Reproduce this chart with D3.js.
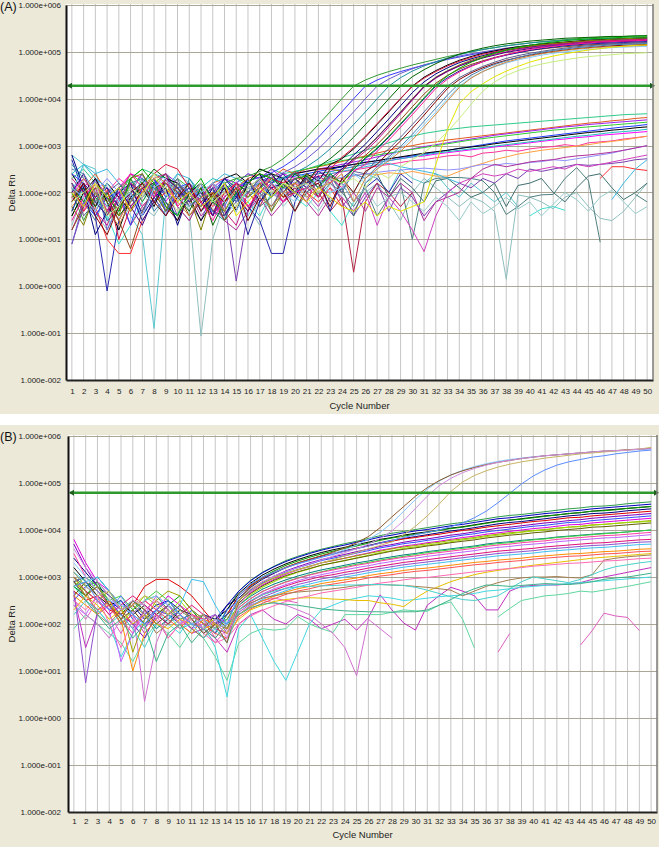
<!DOCTYPE html>
<html><head><meta charset="utf-8">
<script src="https://cdn.jsdelivr.net/npm/d3@7"></script>
<style>
html,body{margin:0;padding:0;background:#fff;}
svg{display:block;}
text{font-family:"Liberation Sans",Arial,sans-serif;}
</style></head><body>
<svg id="chart" width="659" height="847"></svg>
<script>
// ---------- categories / ticks ----------
const cycles = [1,2,3,4,5,6,7,8,9,10,11,12,13,14,15,16,17,18,19,20,21,22,23,24,25,26,27,28,29,30,31,32,33,34,35,36,37,38,39,40,41,42,43,44,45,46,47,48,49,50];
const yTickValues = [0.01,0.1,1,10,100,1000,10000,100000,1000000];
const yTickLabels = ["1.000e-002","1.000e-001","1.000e+000","1.000e+001","1.000e+002","1.000e+003","1.000e+004","1.000e+005","1.000e+006"];
const thresholdA = 19000;
const thresholdB = 62000;

// ---------- Panel A series (values are log10 of Delta Rn, one per cycle) ----------
const A_amplified_log10 = [
[2.0,1.4,1.9,1.6,2.1,2.3,1.8,2.2,2.4,2.1,1.7,2.0,1.8,2.2,2.3,2.35,2.45,2.55,2.72,2.93,3.18,3.45,3.72,4.0,4.27,4.4,4.5,4.58,4.65,4.72,4.78,4.84,4.9,4.95,5.0,5.05,5.09,5.13,5.16,5.19,5.22,5.24,5.26,5.28,5.3,5.31,5.32,5.33,5.34,5.35],
[2.4,2.2,1.5,1.9,2.0,1.3,2.1,2.3,1.6,2.0,1.9,2.2,1.5,1.9,2.1,2.25,2.32,2.42,2.55,2.72,2.93,3.18,3.45,3.72,4.0,4.27,4.4,4.5,4.58,4.65,4.72,4.78,4.84,4.89,4.94,4.98,5.02,5.06,5.09,5.12,5.15,5.18,5.2,5.22,5.24,5.25,5.27,5.28,5.29,5.3],
[0.9,1.8,2.3,1.2,1.7,2.0,2.4,1.9,1.5,2.2,1.8,1.4,2.0,1.7,2.2,2.0,2.25,2.32,2.42,2.55,2.72,2.93,3.18,3.45,3.72,4.0,4.27,4.42,4.54,4.64,4.72,4.79,4.85,4.91,4.96,5.0,5.04,5.08,5.11,5.14,5.16,5.18,5.2,5.22,5.23,5.24,5.25,5.26,5.27,5.28],
[2.6,2.3,2.0,1.4,1.6,2.2,2.3,2.1,1.8,1.5,2.3,1.9,1.6,1.4,2.0,1.9,2.1,2.25,2.32,2.42,2.55,2.72,2.93,3.18,3.45,3.72,4.0,4.27,4.45,4.59,4.7,4.79,4.87,4.94,5.0,5.05,5.09,5.13,5.16,5.19,5.21,5.23,5.25,5.26,5.27,5.28,5.29,5.29,5.3,5.3],
[1.9,2.1,1.7,2.0,1.5,1.8,2.2,2.5,2.3,1.9,1.6,2.1,1.3,1.8,2.2,2.0,2.3,2.4,2.1,2.4,2.2,2.55,2.72,2.93,3.18,3.45,3.72,4.0,4.27,4.47,4.62,4.75,4.86,4.95,5.02,5.08,5.13,5.17,5.2,5.23,5.25,5.27,5.29,5.3,5.31,5.32,5.33,5.33,5.34,5.34],
[1.5,2.0,2.3,1.8,1.2,1.9,2.1,1.7,2.3,2.2,1.9,1.4,1.8,2.1,1.6,2.2,2.4,1.9,2.3,2.0,2.4,2.25,2.6,2.72,2.93,3.18,3.45,3.72,4.0,4.27,4.46,4.6,4.72,4.82,4.9,4.97,5.02,5.07,5.11,5.14,5.17,5.19,5.21,5.23,5.25,5.26,5.27,5.28,5.29,5.3],
[2.2,1.6,1.9,2.1,1.0,1.7,2.0,2.4,2.6,2.5,2.1,1.8,1.5,2.0,2.2,1.7,2.0,2.3,2.2,2.45,2.2,2.5,2.5,2.75,2.96,3.2,3.47,3.74,4.01,4.26,4.44,4.58,4.7,4.8,4.88,4.95,5.0,5.05,5.09,5.12,5.15,5.17,5.19,5.21,5.22,5.23,5.24,5.25,5.26,5.27],
[2.8,2.1,1.1,1.6,2.0,2.2,1.5,1.9,2.1,1.3,2.0,1.7,2.1,1.5,1.9,2.3,1.8,2.1,2.2,1.9,2.35,2.1,2.5,2.55,2.8,3.03,3.3,3.57,3.85,4.13,4.36,4.53,4.66,4.77,4.85,4.92,4.98,5.03,5.07,5.1,5.13,5.15,5.17,5.19,5.2,5.21,5.22,5.23,5.24,5.25],
[1.7,1.3,2.0,1.8,1.5,2.3,2.4,2.0,1.6,2.2,1.9,1.2,2.0,1.8,2.1,1.9,2.2,1.6,2.0,2.2,2.4,2.1,2.5,2.45,2.72,2.93,3.18,3.45,3.72,4.0,4.27,4.46,4.6,4.72,4.82,4.9,4.97,5.03,5.08,5.12,5.15,5.18,5.2,5.22,5.24,5.25,5.27,5.28,5.29,5.3],
[2.3,2.0,1.6,1.3,1.9,2.2,2.0,2.3,2.4,1.7,1.4,1.9,2.2,1.6,1.3,2.0,2.3,2.1,1.8,2.1,1.8,2.35,2.2,2.5,2.68,2.88,3.12,3.4,3.68,3.97,4.25,4.44,4.58,4.7,4.8,4.88,4.95,5.0,5.05,5.09,5.12,5.15,5.17,5.19,5.21,5.22,5.23,5.24,5.25,5.26],
[1.2,1.7,2.1,1.9,1.4,0.8,1.6,2.1,2.2,2.0,1.5,1.8,2.0,1.4,1.7,2.1,1.9,2.2,1.9,2.0,2.3,1.9,2.35,2.2,2.55,2.79,3.02,3.28,3.55,3.83,4.1,4.33,4.5,4.63,4.73,4.81,4.88,4.94,4.99,5.03,5.06,5.09,5.11,5.13,5.15,5.16,5.17,5.18,5.19,5.2],
[2.0,2.4,1.8,1.5,2.1,1.7,1.3,1.9,2.3,2.1,1.8,2.0,1.5,2.2,1.9,1.6,2.1,2.4,2.0,2.3,2.1,2.45,2.3,2.5,2.72,2.93,3.17,3.44,3.71,3.99,4.26,4.45,4.59,4.7,4.79,4.87,4.93,4.99,5.03,5.07,5.1,5.13,5.15,5.17,5.19,5.2,5.21,5.22,5.23,5.24],
[1.6,2.2,1.9,2.1,1.7,2.0,1.4,1.8,2.2,1.9,2.1,1.6,1.9,2.3,2.0,1.1,1.8,2.2,2.4,2.1,2.2,2.35,1.6,2.3,2.5,2.72,2.93,3.18,3.45,3.72,4.0,4.27,4.45,4.59,4.7,4.79,4.87,4.93,4.98,5.03,5.07,5.1,5.13,5.15,5.17,5.18,5.19,5.2,5.21,5.22],
[2.1,1.8,2.2,1.9,1.6,2.3,2.5,2.2,1.7,1.5,2.0,2.3,1.8,1.6,2.0,2.2,2.4,2.3,2.1,2.3,2.35,2.1,2.4,2.2,2.5,2.74,2.95,3.2,3.47,3.74,4.02,4.29,4.49,4.65,4.78,4.88,4.97,5.04,5.1,5.14,5.18,5.21,5.24,5.26,5.28,5.29,5.3,5.31,5.32,5.32],
[1.4,1.9,2.2,1.6,2.0,2.4,2.1,1.9,2.3,1.7,2.0,1.8,1.4,1.9,2.2,1.7,2.0,2.2,1.8,2.0,2.1,1.9,2.35,2.1,2.45,2.6,2.88,3.12,3.39,3.66,3.94,4.22,4.42,4.57,4.69,4.79,4.87,4.94,5.0,5.05,5.09,5.12,5.15,5.17,5.19,5.21,5.22,5.23,5.24,5.25],
[2.2,1.5,1.8,2.0,2.2,1.9,1.6,2.1,2.0,2.3,1.7,1.9,2.1,1.5,1.8,2.2,2.0,1.7,2.1,2.3,2.0,2.2,2.35,2.0,2.45,2.4,2.72,2.93,3.18,3.45,3.72,4.0,4.27,4.45,4.58,4.69,4.78,4.86,4.92,4.97,5.01,5.05,5.08,5.11,5.13,5.15,5.17,5.18,5.19,5.2],
[1.8,2.2,1.5,1.1,1.7,2.0,2.2,1.8,1.5,1.9,2.2,1.6,2.0,1.8,2.1,1.4,1.9,2.2,2.0,1.6,2.1,2.2,1.7,2.3,2.0,2.45,2.6,2.86,3.1,3.37,3.65,3.94,4.22,4.41,4.55,4.66,4.75,4.82,4.88,4.93,4.97,5.01,5.04,5.07,5.09,5.11,5.13,5.14,5.15,5.16],
[2.5,2.4,2.0,1.7,2.1,1.8,2.3,1.6,1.9,2.2,2.0,1.7,1.9,2.2,1.8,2.0,2.3,1.9,2.2,2.0,2.3,2.1,2.35,2.05,2.4,2.3,2.55,2.76,2.98,3.24,3.52,3.8,4.08,4.33,4.5,4.63,4.73,4.81,4.88,4.94,4.99,5.03,5.06,5.09,5.11,5.13,5.15,5.16,5.17,5.18],
[2.1,1.9,1.6,2.2,1.8,2.0,1.5,2.1,2.3,1.9,1.7,2.0,2.2,1.8,1.6,2.1,1.9,2.2,2.0,1.8,2.1,2.3,2.0,2.1,2.4,2.2,2.5,2.72,2.93,3.18,3.45,3.72,4.0,4.27,4.45,4.58,4.68,4.76,4.83,4.88,4.93,4.97,5.0,5.03,5.05,5.07,5.09,5.1,5.11,5.12],
[1.9,2.3,2.0,1.6,1.3,1.8,2.1,2.4,2.2,1.8,1.5,1.9,2.0,1.6,2.1,2.3,1.9,1.7,2.0,2.2,1.9,2.1,2.2,2.4,1.8,2.3,2.5,2.68,2.88,3.12,3.39,3.67,3.96,4.24,4.44,4.58,4.69,4.78,4.85,4.91,4.96,5.0,5.03,5.06,5.08,5.1,5.11,5.12,5.13,5.14],
[2.0,1.7,2.2,1.9,2.1,1.6,2.0,2.3,2.1,1.8,2.0,1.7,1.9,2.2,1.5,1.8,2.1,1.9,2.2,2.0,1.8,2.1,1.9,1.7,1.6,1.8,1.5,1.7,1.6,1.7,1.8,2.6,3.35,3.9,4.15,4.32,4.47,4.59,4.69,4.78,4.85,4.91,4.96,5.0,5.04,5.07,5.1,5.12,5.14,5.15],
[1.8,2.0,2.2,1.5,1.7,2.1,1.9,2.4,2.0,1.6,1.9,2.2,1.8,2.0,1.7,2.1,2.3,2.0,2.2,2.1,2.2,2.0,2.3,2.2,2.3,2.1,2.45,2.3,2.55,2.7,2.85,3.05,3.3,3.58,3.88,4.16,4.36,4.5,4.6,4.68,4.74,4.79,4.83,4.87,4.9,4.92,4.94,4.96,4.97,4.98]
];
const A_amplified_colors = ["#339933","#3a3aff","#6a5acd","#1e90a0","#006400","#000000","#dc143c","#000080","#808000","#c71585","#8b4513","#4b0082","#1c1ca0","#00b000","#ff1493","#5f5f8f","#800000","#4682b4","#87cefa","#cd853f","#e6e600","#c8f080"];

const A_drift_log10 = [
[2.3,2.5,2.2,1.8,2.0,2.3,2.5,2.4,2.2,1.9,2.0,2.2,1.8,2.1,2.2,2.4,2.3,2.5,2.4,2.45,2.5,2.58,2.66,2.74,2.82,2.9,2.98,3.06,3.14,3.2,3.26,3.3,3.34,3.37,3.4,3.42,3.44,3.46,3.48,3.5,3.52,3.54,3.56,3.58,3.6,3.62,3.64,3.66,3.67,3.68],
[1.8,2.1,2.4,2.0,1.6,1.9,2.2,2.0,2.3,2.1,1.8,2.0,2.2,2.3,2.1,2.3,2.4,2.3,2.5,2.4,2.5,2.55,2.6,2.66,2.72,2.78,2.84,2.9,2.96,3.0,3.05,3.08,3.12,3.15,3.18,3.21,3.24,3.27,3.3,3.33,3.36,3.39,3.42,3.45,3.48,3.5,3.53,3.55,3.58,3.6],
[2.0,1.7,2.3,2.1,1.9,2.2,1.5,2.1,2.4,2.2,2.0,1.7,2.1,2.3,2.2,2.4,2.3,2.5,2.3,2.4,2.45,2.5,2.55,2.6,2.65,2.7,2.76,2.82,2.88,2.93,2.98,3.02,3.06,3.1,3.14,3.18,3.22,3.25,3.28,3.31,3.34,3.37,3.4,3.42,3.45,3.47,3.49,3.51,3.53,3.55],
[1.5,2.0,1.8,2.2,1.9,2.4,2.2,1.8,2.0,2.3,2.1,1.9,2.2,2.0,2.3,2.2,2.5,2.4,2.3,2.45,2.5,2.56,2.62,2.68,2.72,2.76,2.8,2.84,2.88,2.92,2.96,3.0,3.04,3.08,3.12,3.15,3.18,3.21,3.24,3.27,3.3,3.33,3.35,3.38,3.4,3.42,3.44,3.46,3.48,3.5],
[2.2,1.8,1.5,1.9,2.1,1.7,2.0,2.3,1.9,2.1,2.2,1.8,2.0,2.3,2.1,2.2,2.4,2.2,2.3,2.35,2.4,2.45,2.5,2.55,2.6,2.65,2.68,2.72,2.75,2.78,2.82,2.86,2.9,2.94,2.98,3.02,3.06,3.1,3.13,3.16,3.19,3.22,3.25,3.28,3.31,3.34,3.37,3.4,3.42,3.45],
[2.4,2.0,1.7,2.2,1.9,1.6,2.1,2.2,1.8,1.4,2.0,2.2,1.9,2.3,2.4,2.2,2.5,2.4,2.3,2.4,2.45,2.5,2.52,2.56,2.6,2.64,2.68,2.72,2.76,2.8,2.84,2.87,2.9,2.94,2.97,3.0,3.04,3.07,3.1,3.13,3.16,3.19,3.22,3.25,3.28,3.3,3.33,3.35,3.38,3.4],
[2.0,2.3,1.9,1.6,2.1,2.4,2.3,2.0,1.8,2.2,1.9,2.1,1.7,2.0,2.2,2.1,2.3,2.2,2.4,2.3,2.35,2.4,2.45,2.5,2.55,2.6,2.64,2.68,2.72,2.76,2.78,2.82,2.85,2.88,2.91,2.94,2.97,3.0,3.03,3.06,3.09,3.12,3.14,3.17,3.19,3.22,3.24,3.26,3.28,3.3],
[1.9,1.6,2.2,2.0,2.3,2.1,1.7,2.0,2.2,1.9,2.1,1.8,1.5,1.9,2.2,2.0,2.2,2.3,2.2,2.3,2.3,2.35,2.4,2.44,2.48,2.52,2.56,2.6,2.64,2.68,2.7,2.74,2.78,2.8,2.76,2.84,2.86,2.9,2.88,2.93,2.96,2.98,3.02,2.99,3.06,3.08,3.1,3.14,3.17,3.2],
[2.4,2.6,2.3,2.1,1.8,2.0,2.2,2.4,2.3,2.0,1.8,2.1,2.3,2.2,1.9,2.1,2.3,2.2,2.3,2.4,2.35,2.4,2.44,2.5,2.55,2.6,2.64,2.68,2.72,2.76,2.8,2.84,2.87,2.9,2.93,2.96,2.99,3.02,3.05,3.08,3.11,3.14,3.17,3.2,3.22,3.25,3.28,3.3,3.32,3.35],
[1.7,2.0,2.2,1.8,1.4,1.9,2.1,1.8,2.0,2.2,1.9,2.1,1.7,2.0,2.2,1.9,2.1,2.3,2.1,2.2,2.2,2.25,2.3,2.3,2.35,2.4,2.38,2.42,2.4,2.45,2.4,2.35,2.35,2.45,2.55,2.62,2.7,2.76,2.82,2.86,2.9,2.93,2.96,2.99,3.02,3.06,3.09,3.12,3.16,3.2],
[2.1,1.8,2.0,2.3,2.0,1.7,1.9,2.2,2.0,1.8,2.1,1.9,2.2,2.0,1.8,2.0,2.2,2.1,2.3,2.2,2.2,2.25,2.28,2.32,2.36,2.4,2.43,2.46,2.48,2.5,2.52,2.5,2.48,2.5,2.55,2.6,2.58,2.62,2.6,2.64,2.66,2.7,2.68,2.72,2.76,2.8,2.84,2.9,2.95,3.0],
[1.2,1.8,2.1,1.5,1.9,1.3,1.7,2.0,1.6,1.9,2.0,1.5,1.8,1.4,1.2,1.6,1.9,1.5,1.8,2.0,1.8,1.5,1.9,1.7,2.0,1.6,2.1,1.9,2.2,2.0,1.4,1.8,1.9,2.0,2.3,2.5,2.6,2.55,2.6,2.65,2.68,2.7,2.75,2.78,2.8,2.83,2.86,2.9,2.95,3.0],
[1.9,2.2,1.7,1.0,0.7,0.7,1.4,1.8,2.0,2.1,1.7,1.9,2.2,1.8,2.0,1.6,2.2,2.1,1.9,2.2,2.0,1.8,2.1,1.7,null,null,null,null,null,null,null,null,null,null,null,null,null,null,null,null,null,null,null,null,null,2.3,2.55,2.55,2.5,2.47],
[2.0,2.6,2.4,2.5,2.2,1.9,2.0,2.3,2.1,2.4,2.3,2.0,2.2,2.4,2.3,2.1,2.2,1.9,2.1,2.0,2.2,2.3,2.4,2.45,2.5,2.55,2.6,2.62,2.55,2.5,2.45,2.4,2.3,2.2,null,null,null,null,null,null,null,null,null,null,null,null,1.85,2.2,2.5,2.7]
];
const A_drift_colors = ["#2ecc8a","#e2581c","#a020f0","#32cd32","#1e3cff","#000000","#ff00ff","#ff3399","#20c0c0","#ffa040","#9090ff","#b0309a","#ff3030","#40b8e0"];

const A_lowNoise_log10 = [
[2.8,2.6,2.5,1.4,1.9,1.5,1.1,-0.9,1.9,2.4,2.2,2.0,1.8,2.3,2.0,1.5,1.9,2.2,1.8,2.0,2.1,1.9,2.3,2.2,2.0,2.4,2.3,2.0,2.5,2.3,2.2,2.4,2.1,1.9,2.2,2.0,1.8,2.0,1.7,null,null,null,null,null,null,null,null,null,null,null],
[1.3,2.0,1.6,1.2,1.8,2.0,1.7,1.5,1.9,2.2,1.6,-1.06,1.0,1.8,2.1,1.7,1.3,2.0,1.8,2.1,2.0,1.7,2.2,1.9,1.6,2.0,2.2,1.8,1.4,2.0,2.3,2.1,1.9,1.7,1.9,1.8,1.6,0.15,1.95,1.9,1.8,1.65,1.9,2.0,1.7,1.45,1.4,1.6,1.9,2.2],
[2.2,1.8,1.4,2.0,1.7,2.3,1.9,2.1,1.6,2.0,2.2,1.9,1.7,2.1,1.8,2.2,2.0,1.6,2.2,2.3,2.1,1.9,2.2,2.0,1.7,2.1,1.5,1.9,2.2,1.0,2.2,2.3,2.32,2.32,2.3,2.25,2.0,1.53,1.7,1.9,1.95,1.96,2.3,2.53,2.25,0.94,null,null,1.96,1.8],
[1.6,2.1,1.8,1.5,0.9,1.3,1.8,2.2,2.0,1.7,1.4,1.9,2.1,1.6,2.0,1.8,1.5,2.0,2.2,1.9,1.7,2.0,1.6,1.3,1.8,null,null,null,null,null,null,null,null,null,null,null,null,null,null,1.5,1.65,1.7,1.62,null,null,null,null,null,null,null],
[2.7,2.0,1.5,-0.1,1.4,1.9,1.5,2.2,2.4,2.0,1.8,2.1,1.6,1.5,2.0,1.7,1.4,0.7,0.7,1.8,2.3,1.9,2.4,2.2,1.8,2.1,2.3,2.0,2.4,2.2,null,null,null,null,null,null,null,null,null,null,null,null,null,null,null,null,null,null,null,null],
[0.9,1.7,2.3,1.9,1.4,2.0,2.2,1.8,2.1,1.5,2.0,1.7,2.2,1.8,0.11,1.6,2.0,2.2,1.9,2.1,2.2,2.0,2.3,1.8,1.5,1.9,2.2,1.6,2.1,1.9,1.5,1.8,2.0,2.2,2.1,2.3,2.2,2.4,2.3,2.5,2.45,2.5,2.55,2.6,2.58,2.6,2.62,2.65,2.7,2.72],
[2.1,1.7,2.0,1.6,1.8,2.2,1.9,2.3,1.7,1.4,1.9,2.1,1.6,1.9,2.2,2.0,1.7,2.2,1.9,2.1,2.3,2.0,1.6,1.9,0.3,1.8,2.2,2.0,1.7,2.0,null,null,null,null,null,null,null,null,null,null,null,null,null,null,null,null,null,null,null,null],
[1.5,2.0,2.2,1.8,2.1,1.6,1.9,2.3,2.0,1.8,2.2,1.9,1.7,2.0,1.8,2.1,2.3,2.0,1.8,2.2,2.0,1.7,2.1,1.9,1.6,2.0,1.3,1.9,1.6,1.2,0.74,1.5,2.0,2.2,2.3,2.4,2.35,2.4,2.5,2.45,2.5,2.55,2.5,2.6,2.55,2.6,2.65,2.7,2.75,2.8],
[1.8,2.2,1.6,2.0,1.7,2.1,2.4,1.9,1.5,2.0,1.8,2.2,1.9,1.4,2.0,2.3,1.7,1.9,2.2,1.6,2.0,2.3,1.8,2.1,1.5,2.2,2.4,1.9,2.3,2.1,1.8,2.25,2.3,2.1,1.9,2.0,2.2,1.7,2.15,2.2,2.3,2.0,1.8,2.1,2.35,2.4,2.1,1.85,2.0,2.2],
[2.2,1.9,1.5,1.8,2.1,1.7,2.0,1.6,1.9,2.3,2.0,1.6,1.8,2.2,1.9,1.4,1.8,2.1,1.7,2.0,1.9,1.6,2.0,2.2,1.8,2.1,1.7,1.9,2.0,1.8,1.6,1.9,1.7,1.4,1.8,1.55,1.7,1.9,1.65,1.8,1.5,1.75,2.0,1.85,1.6,1.9,2.05,1.8,1.55,1.7]
];
const A_lowNoise_colors = ["#5cc8d0","#8fbfbf","#4f7f7f","#40e0d0","#2a2ab0","#7b3fb0","#b02040","#d040c0","#3f6f6f","#99cccc"];

// ---------- Panel B series (log10 of Delta Rn) ----------
const B_high_log10 = [
[3.3,3.0,2.7,2.5,2.4,2.2,2.5,2.6,2.4,2.2,2.0,2.1,1.9,2.0,2.6,2.85,3.0,3.1,3.2,3.28,3.35,3.42,3.5,3.58,3.68,3.8,3.95,4.15,4.4,4.65,4.87,5.04,5.17,5.27,5.35,5.41,5.46,5.5,5.53,5.56,5.58,5.6,5.62,5.64,5.66,5.67,5.68,5.7,5.71,5.72],
[2.9,2.6,2.8,2.4,2.1,2.5,2.3,2.0,2.2,2.4,2.1,1.8,2.0,1.6,2.5,2.8,2.98,3.1,3.2,3.3,3.38,3.45,3.53,3.62,3.73,3.86,4.05,4.28,4.5,4.72,4.9,5.05,5.17,5.26,5.33,5.39,5.44,5.48,5.52,5.55,5.58,5.6,5.62,5.64,5.66,5.68,5.69,5.71,5.72,5.74],
[3.1,2.8,2.6,2.7,2.3,2.4,2.6,2.5,2.2,2.3,2.1,2.2,2.0,1.8,2.5,2.75,2.9,3.0,3.08,3.15,3.22,3.3,3.37,3.45,3.52,3.6,3.67,3.75,3.9,4.08,4.3,4.55,4.82,5.02,5.16,5.26,5.34,5.4,5.45,5.49,5.53,5.56,5.59,5.62,5.64,5.66,5.68,5.7,5.72,5.76],
[2.8,2.9,2.5,2.3,2.6,2.2,2.0,2.3,2.5,2.2,2.0,1.9,2.1,2.0,2.6,2.85,3.0,3.1,3.2,3.28,3.35,3.42,3.48,3.55,3.6,3.66,3.72,3.78,3.84,3.9,3.95,4.0,4.07,4.15,4.26,4.4,4.58,4.78,4.98,5.15,5.28,5.38,5.45,5.5,5.55,5.58,5.62,5.65,5.68,5.7],
[3.6,3.2,2.9,2.6,2.3,2.5,2.4,2.1,2.3,2.0,2.2,1.9,2.1,1.7,2.4,2.7,2.9,3.02,3.12,3.2,3.28,3.36,3.44,3.52,3.6,3.7,3.82,3.98,4.2,4.46,4.72,4.94,5.1,5.22,5.31,5.38,5.44,5.48,5.52,5.55,5.58,5.6,5.62,5.64,5.66,5.68,5.69,5.7,5.72,5.73]
];
const B_high_colors = ["#87c8ff","#8b5a2b","#c8b464","#5a8cff","#d08ce0"];

const B_mid_log10 = [
[3.0,2.8,2.9,2.6,2.4,2.2,2.5,2.6,2.3,2.1,2.2,2.0,1.9,2.3,2.7,2.93,3.1,3.23,3.35,3.44,3.52,3.59,3.65,3.71,3.76,3.82,3.88,3.93,3.97,4.01,4.05,4.09,4.13,4.16,4.2,4.24,4.28,4.31,4.33,4.36,4.39,4.42,4.45,4.47,4.5,4.51,4.53,4.56,4.58,4.6],
[2.9,3.0,2.7,2.5,2.3,2.0,2.2,2.4,2.5,2.3,2.1,2.2,2.0,2.4,2.7,2.92,3.09,3.22,3.33,3.42,3.5,3.57,3.63,3.68,3.74,3.79,3.85,3.89,3.94,3.98,4.01,4.05,4.09,4.12,4.16,4.2,4.24,4.26,4.29,4.32,4.35,4.37,4.4,4.42,4.45,4.47,4.49,4.51,4.53,4.55],
[3.2,2.9,2.6,2.4,2.5,2.2,2.4,2.2,2.0,2.3,2.2,1.9,2.1,2.3,2.65,2.87,3.04,3.17,3.28,3.37,3.45,3.52,3.58,3.63,3.69,3.74,3.8,3.84,3.89,3.93,3.96,4.0,4.04,4.07,4.11,4.15,4.19,4.21,4.24,4.27,4.3,4.32,4.35,4.37,4.4,4.42,4.44,4.46,4.48,4.5],
[2.8,2.6,2.9,2.4,2.2,2.5,2.3,2.1,2.4,2.6,2.3,2.0,1.8,2.2,2.6,2.83,3.0,3.13,3.25,3.34,3.42,3.49,3.55,3.61,3.66,3.72,3.78,3.83,3.87,3.91,3.95,3.99,4.03,4.06,4.1,4.14,4.18,4.21,4.23,4.26,4.29,4.32,4.35,4.37,4.4,4.41,4.43,4.46,4.48,4.5],
[3.4,3.1,2.8,2.6,2.3,2.4,2.1,2.3,2.5,2.2,2.0,2.2,2.1,2.4,2.55,2.78,2.95,3.08,3.2,3.29,3.37,3.44,3.5,3.56,3.61,3.67,3.73,3.78,3.82,3.86,3.9,3.94,3.98,4.01,4.05,4.09,4.13,4.16,4.18,4.21,4.24,4.27,4.3,4.32,4.35,4.36,4.38,4.41,4.43,4.45],
[2.7,2.5,2.6,2.3,2.2,2.4,2.8,2.95,2.95,2.8,2.6,2.3,2.0,2.2,2.6,2.82,2.98,3.1,3.21,3.3,3.37,3.45,3.5,3.55,3.61,3.66,3.72,3.76,3.81,3.84,3.88,3.91,3.95,3.99,4.02,4.06,4.09,4.12,4.15,4.18,4.2,4.23,4.26,4.27,4.3,4.32,4.34,4.36,4.38,4.4],
[3.7,3.2,2.8,2.5,2.2,2.0,1.7,2.2,2.4,2.1,1.9,2.2,2.0,2.1,2.5,2.72,2.89,3.02,3.13,3.22,3.3,3.37,3.43,3.48,3.54,3.59,3.65,3.69,3.74,3.78,3.81,3.85,3.89,3.92,3.96,4.0,4.04,4.06,4.09,4.12,4.15,4.17,4.2,4.22,4.25,4.27,4.29,4.31,4.33,4.35],
[2.5,2.8,2.6,2.3,2.5,2.1,1.9,2.3,2.2,2.0,2.3,2.1,1.8,2.3,2.5,2.72,2.88,3.0,3.11,3.2,3.27,3.35,3.4,3.45,3.51,3.56,3.62,3.66,3.71,3.74,3.78,3.81,3.85,3.89,3.92,3.96,3.99,4.02,4.05,4.08,4.1,4.13,4.16,4.17,4.2,4.22,4.24,4.26,4.28,4.3],
[3.8,3.3,2.9,2.7,2.4,2.2,2.5,2.3,2.6,2.4,2.2,2.1,2.0,2.2,2.45,2.67,2.83,2.95,3.06,3.15,3.22,3.3,3.35,3.4,3.46,3.51,3.57,3.61,3.66,3.69,3.73,3.76,3.8,3.84,3.87,3.91,3.94,3.97,4.0,4.03,4.05,4.08,4.11,4.12,4.15,4.17,4.19,4.21,4.23,4.25],
[2.9,2.7,2.5,2.7,2.4,1.4,2.1,2.5,2.7,2.6,2.3,2.1,1.9,2.1,2.5,2.7,2.86,2.98,3.08,3.16,3.23,3.3,3.35,3.4,3.45,3.5,3.55,3.6,3.64,3.67,3.71,3.74,3.78,3.81,3.84,3.88,3.91,3.94,3.96,3.99,4.01,4.04,4.06,4.08,4.11,4.12,4.14,4.16,4.18,4.2],
[3.0,2.6,2.8,2.5,2.0,2.3,2.6,2.4,2.2,2.5,2.2,2.0,2.1,2.0,2.4,2.62,2.78,2.9,3.01,3.1,3.17,3.25,3.3,3.35,3.41,3.46,3.52,3.56,3.61,3.64,3.68,3.71,3.75,3.79,3.82,3.86,3.89,3.92,3.95,3.98,4.0,4.03,4.06,4.07,4.1,4.12,4.14,4.16,4.17,4.18],
[2.6,2.9,2.7,2.4,2.1,2.3,2.0,2.2,2.4,2.2,2.0,1.9,2.2,1.9,2.45,2.65,2.81,2.93,3.03,3.11,3.18,3.25,3.3,3.35,3.4,3.45,3.5,3.55,3.59,3.62,3.66,3.69,3.73,3.76,3.79,3.83,3.86,3.89,3.91,3.94,3.96,3.99,4.01,4.03,4.06,4.07,4.09,4.11,4.13,4.15],
[3.1,2.8,3.0,2.7,2.3,2.5,2.2,1.9,2.1,2.3,2.1,1.8,2.0,2.2,2.4,2.59,2.74,2.85,2.94,3.02,3.09,3.15,3.2,3.25,3.3,3.34,3.39,3.43,3.47,3.5,3.54,3.57,3.6,3.63,3.66,3.7,3.73,3.75,3.78,3.8,3.82,3.85,3.87,3.89,3.91,3.93,3.94,3.96,3.98,4.0],
[2.8,3.0,2.8,2.5,2.6,2.3,2.5,2.7,2.5,2.2,2.0,2.2,1.9,2.1,2.35,2.54,2.69,2.8,2.9,2.98,3.05,3.11,3.17,3.22,3.27,3.31,3.36,3.4,3.44,3.48,3.52,3.55,3.58,3.61,3.64,3.68,3.71,3.73,3.76,3.79,3.81,3.84,3.86,3.88,3.9,3.92,3.94,3.96,3.98,4.0],
[3.5,3.0,2.7,2.4,2.1,1.8,2.3,2.5,2.3,2.0,2.2,2.1,1.7,2.0,2.35,2.54,2.69,2.8,2.89,2.97,3.04,3.1,3.15,3.2,3.25,3.29,3.34,3.38,3.42,3.45,3.49,3.52,3.55,3.58,3.61,3.65,3.68,3.7,3.73,3.75,3.77,3.8,3.82,3.84,3.86,3.88,3.89,3.91,3.93,3.95],
[2.4,2.2,2.6,2.3,1.2,1.8,2.2,2.6,2.4,2.1,1.9,2.0,2.2,2.0,2.3,2.49,2.64,2.75,2.84,2.92,2.99,3.05,3.1,3.15,3.2,3.24,3.29,3.33,3.37,3.4,3.44,3.47,3.5,3.53,3.56,3.6,3.63,3.65,3.68,3.7,3.72,3.75,3.77,3.79,3.81,3.83,3.84,3.86,3.88,3.9],
[3.0,2.7,2.5,2.2,2.4,2.6,2.4,2.2,2.0,2.2,2.4,2.2,1.9,1.8,2.3,2.48,2.62,2.72,2.81,2.89,2.95,3.01,3.05,3.1,3.14,3.19,3.23,3.27,3.31,3.34,3.37,3.4,3.43,3.46,3.49,3.52,3.55,3.57,3.59,3.61,3.64,3.66,3.68,3.7,3.72,3.73,3.75,3.77,3.79,3.8],
[2.7,0.75,2.3,2.5,2.2,1.9,2.3,2.1,2.4,2.2,2.0,2.1,2.2,1.8,2.25,2.43,2.57,2.67,2.76,2.84,2.9,2.96,3.0,3.05,3.09,3.14,3.18,3.22,3.26,3.29,3.32,3.35,3.38,3.41,3.44,3.47,3.5,3.52,3.54,3.56,3.59,3.61,3.63,3.65,3.67,3.68,3.7,3.72,3.74,3.75],
[3.1,2.9,3.0,2.7,2.4,2.2,2.0,2.3,2.1,2.4,2.95,2.9,2.4,2.0,2.2,2.38,2.52,2.62,2.71,2.79,2.85,2.91,2.95,3.0,3.04,3.09,3.13,3.17,3.21,3.24,3.27,3.3,3.33,3.36,3.39,3.42,3.45,3.47,3.49,3.51,3.54,3.56,3.58,3.6,3.62,3.63,3.65,3.67,3.69,3.7],
[2.6,2.4,2.2,2.5,2.1,1.0,1.8,2.1,2.3,2.0,1.8,2.1,2.0,1.9,2.2,2.37,2.49,2.59,2.68,2.75,2.8,2.86,2.9,2.94,2.98,3.03,3.07,3.1,3.14,3.17,3.19,3.22,3.25,3.28,3.31,3.33,3.36,3.38,3.4,3.43,3.45,3.47,3.49,3.5,3.52,3.54,3.55,3.57,3.59,3.6],
[2.9,2.6,2.3,2.4,2.0,2.2,2.5,2.3,2.1,1.9,2.2,2.0,1.8,1.7,2.15,2.32,2.44,2.54,2.63,2.7,2.75,2.81,2.85,2.89,2.93,2.98,3.02,3.05,3.09,3.12,3.14,3.17,3.2,3.23,3.26,3.28,3.31,3.33,3.35,3.38,3.4,3.42,3.44,3.45,3.47,3.49,3.5,3.52,3.54,3.55],
[2.3,2.6,2.4,2.1,2.3,2.0,2.2,2.0,1.9,2.1,2.0,1.9,2.0,1.8,2.1,2.3,2.4,2.48,2.52,2.55,2.56,2.55,2.53,2.52,2.5,2.5,2.45,2.42,2.37,2.55,2.7,2.8,2.9,2.98,3.05,3.1,3.14,3.18,3.22,3.25,3.28,3.31,3.34,3.37,3.4,3.42,3.44,3.46,3.48,3.5],
[3.0,2.7,2.2,2.0,2.3,2.4,2.2,1.8,2.0,2.2,1.9,1.7,2.0,1.9,2.3,2.45,2.55,2.6,2.65,2.68,2.7,2.72,2.75,2.78,2.82,2.83,2.84,2.83,2.82,2.8,2.78,2.75,2.72,2.6,2.7,2.8,2.88,2.94,2.98,3.0,3.0,3.01,2.99,2.98,3.05,3.36,3.4,3.43,3.45,3.47],
[2.5,2.3,2.6,2.0,1.5,2.1,1.9,2.2,1.7,2.0,2.1,1.8,1.6,1.7,2.0,2.17,2.29,2.39,2.48,2.55,2.6,2.66,2.7,2.74,2.78,2.83,2.87,2.9,2.94,2.97,2.99,3.02,3.05,3.08,3.11,3.13,3.16,3.18,3.2,3.23,3.25,3.27,3.29,3.3,3.32,3.34,3.35,3.37,3.39,3.4],
[2.2,2.5,2.3,2.0,2.2,1.9,1.5,2.0,2.2,1.9,2.0,1.7,1.9,1.6,2.3,2.5,2.62,2.7,2.76,2.79,2.8,2.81,2.82,2.83,2.83,2.84,2.84,2.83,2.82,2.78,2.72,2.65,2.58,2.52,2.5,2.55,2.6,2.75,2.9,3.0,2.96,2.92,2.88,2.95,3.05,3.15,3.22,3.26,3.3,3.33],
[2.9,2.5,2.2,1.9,2.1,1.7,2.0,1.2,1.8,2.0,1.6,1.9,1.7,2.0,2.2,2.35,2.42,2.45,2.42,2.4,2.36,2.32,2.3,2.28,2.27,2.26,2.26,2.25,2.26,2.26,2.3,2.4,2.52,2.65,2.75,2.83,2.82,2.8,2.82,2.84,2.86,2.85,2.84,2.86,2.9,2.95,2.98,3.0,3.04,3.08]
];
const B_mid_colors = ["#2e9e4a","#0000c0","#000000","#00a000","#000080","#e00000","#8000c0","#3050ff","#e000e0","#a0a000","#a0e000","#606000","#008080","#40d040","#ff40a0","#c060ff","#e0107a","#9050d0","#40c0f0","#ff8c00","#ff5050","#e8c000","#a08050","#ff69b4","#48d1cc","#3cb38a"];

const B_lowNoise_log10 = [
[2.4,2.1,2.5,2.2,1.8,2.3,2.0,2.1,1.7,2.0,2.1,1.9,1.6,1.9,2.2,2.4,2.5,2.55,2.5,2.45,null,null,null,null,null,null,null,null,null,null,null,null,null,null,null,null,1.4,1.8,null,null,null,null,null,1.55,1.86,2.23,2.17,2.14,1.86,null],
[2.6,1.5,2.2,2.4,2.0,2.2,1.8,2.1,2.3,2.0,1.8,1.9,1.7,1.4,2.0,2.2,2.3,2.1,2.0,2.2,2.1,1.9,2.0,2.1,1.87,2.13,2.62,2.3,2.02,1.87,2.4,2.6,2.78,2.7,2.6,2.3,2.3,2.7,2.8,2.82,2.83,2.83,2.85,2.88,2.95,3.0,3.05,3.1,3.15,3.2],
[1.9,2.2,2.0,1.8,1.6,1.2,1.7,2.0,1.8,1.5,1.9,1.7,1.3,0.8,1.6,1.8,1.9,1.87,1.9,2.16,2.0,1.9,1.82,2.2,2.2,2.2,2.2,2.25,2.3,2.28,2.27,2.4,2.47,2.1,1.49,null,2.15,2.33,2.5,2.55,2.6,2.62,2.65,2.7,2.68,2.72,2.76,2.8,2.85,2.9],
[2.8,2.5,2.3,2.0,1.3,1.8,2.1,2.3,2.0,1.8,2.2,2.0,1.5,0.45,1.9,2.2,1.7,1.2,0.8,1.4,2.0,2.3,2.4,2.5,2.55,2.6,2.58,2.55,2.5,2.52,2.55,2.58,2.6,2.62,2.65,2.7,2.72,2.75,2.78,2.8,2.82,2.84,2.86,2.88,2.9,2.92,2.94,2.96,2.98,3.0],
[2.5,2.2,2.0,1.7,2.1,2.3,0.35,1.6,2.2,2.1,1.9,1.7,2.0,1.8,2.2,2.4,2.5,2.45,2.4,2.3,2.2,2.0,1.8,1.5,0.9,2.1,1.9,1.7,null,null,null,null,null,null,null,null,null,null,null,null,null,null,null,null,null,null,null,null,null,null]
];
const B_lowNoise_colors = ["#e060c0","#c030c0","#60d8a0","#40d8e0","#d070d0"];

// ---------- drawing ----------
const svg = d3.select("#chart");
const W = 659, H = 847;
svg.append("rect").attr("width", W).attr("height", H).attr("fill", "#ffffff");

const panels = [
  { label: "(A)", bgTop: 0, bgBot: 414, left: 66, right: 653, top: 5, bottom: 380,
    yPad: 5, xPad: 8, titleY: 408.5, yTitleY: 193, labelY: 11, threshold: thresholdA,
    groups: [[A_lowNoise_log10, A_lowNoise_colors], [A_drift_log10, A_drift_colors], [A_amplified_log10, A_amplified_colors]] },
  { label: "(B)", bgTop: 425, bgBot: 847, left: 68, right: 657, top: 436, bottom: 812,
    yPad: 7, xPad: 6.5, titleY: 837.5, yTitleY: 624, labelY: 441, threshold: thresholdB,
    groups: [[B_lowNoise_log10, B_lowNoise_colors], [B_mid_log10, B_mid_colors], [B_high_log10, B_high_colors]] }
];

let badCount = 0;
panels.forEach((p, pi) => {
  const g = svg.append("g");
  g.append("rect").attr("x", 0).attr("y", p.bgTop).attr("width", W).attr("height", p.bgBot - p.bgTop).attr("fill", "#ece9d8");
  g.append("rect").attr("x", p.left).attr("y", p.top - 1).attr("width", p.right - p.left).attr("height", p.bottom - p.top + 1).attr("fill", "#ffffff");

  const x = d3.scaleLinear().domain([0.5, 50.5]).range([p.left, p.right]);
  const y = d3.scaleLog().domain([0.01, 1000000]).range([p.bottom, p.top]);

  g.append("g").selectAll("line").data(cycles).join("line")
    .attr("x1", d => x(d)).attr("x2", d => x(d))
    .attr("y1", p.top - 1).attr("y2", p.bottom)
    .attr("stroke", "#c6c6c6").attr("stroke-width", 1);
  g.append("g").selectAll("line").data(yTickValues.slice(1)).join("line")
    .attr("x1", p.left).attr("x2", p.right)
    .attr("y1", d => Math.round(y(d)) + 0.5).attr("y2", d => Math.round(y(d)) + 0.5)
    .attr("stroke", "#aca697").attr("stroke-width", 1.2);

  const clipId = "clip" + pi;
  svg.append("clipPath").attr("id", clipId).append("rect")
    .attr("x", p.left).attr("y", p.top - 1).attr("width", p.right - p.left).attr("height", p.bottom - p.top + 1);

  const line = d3.line()
    .defined(v => v !== null)
    .x((v, i) => x(cycles[i]))
    .y(v => y(Math.pow(10, v)));

  const lg = g.append("g").attr("clip-path", "url(#" + clipId + ")");
  p.groups.forEach(([series, colors]) => {
    series.forEach((s, i) => {
      if (s.length !== cycles.length) badCount++;
      lg.append("path").attr("d", line(s)).attr("fill", "none")
        .attr("stroke", colors[i % colors.length]).attr("stroke-width", 1)
        .attr("stroke-linejoin", "round");
    });
  });

  const ty = y(p.threshold);
  g.append("line").attr("x1", p.left + 2).attr("x2", p.right).attr("y1", ty).attr("y2", ty)
    .attr("stroke", "#2e9a2e").attr("stroke-width", 2.4);
  g.append("path").attr("d", `M${p.left + 1},${ty} l5,-3 l0,6 z`).attr("fill", "#1f5f1f");
  g.append("path").attr("d", `M${p.right + 2},${ty} l-5,-3 l0,6 z`).attr("fill", "#1f5f1f");

  const yAxis = d3.axisLeft(y).tickValues(yTickValues).tickFormat((d, i) => yTickLabels[i]).tickSize(0).tickPadding(p.yPad);
  const ya = g.append("g").attr("transform", `translate(${p.left},0)`).call(yAxis);
  ya.select(".domain").attr("stroke", "#111").attr("stroke-width", 2);
  ya.selectAll("text").attr("font-size", 8).attr("fill", "#222").attr("font-family", "'Liberation Sans', Arial, sans-serif");

  const xAxis = d3.axisBottom(x).tickValues(cycles).tickSize(0).tickPadding(p.xPad);
  const xa = g.append("g").attr("transform", `translate(0,${p.bottom})`).call(xAxis);
  xa.select(".domain").attr("stroke", "#222").attr("stroke-width", 2);
  xa.selectAll("text").attr("font-size", 8).attr("fill", "#222").attr("font-family", "'Liberation Sans', Arial, sans-serif");

  g.append("line").attr("x1", p.right).attr("x2", p.right).attr("y1", p.top - 1).attr("y2", p.bottom)
    .attr("stroke", "#7a7a7a").attr("stroke-width", 1.5);

  g.append("text").attr("x", (p.left + p.right) / 2).attr("y", p.titleY).attr("text-anchor", "middle")
    .attr("font-size", 9.5).attr("fill", "#222").text("Cycle Number");
  g.append("text").attr("transform", `translate(15,${p.yTitleY}) rotate(-90)`).attr("text-anchor", "middle")
    .attr("font-size", 9.5).attr("fill", "#222").text("Delta Rn");
  g.append("text").attr("x", 0).attr("y", p.labelY).attr("font-size", 12.5).attr("fill", "#111").text(p.label);
});

if (badCount > 0) {
  svg.append("text").attr("x", 300).attr("y", 420).attr("fill", "red").attr("font-size", 12).text("BAD LENGTHS: " + badCount);
}
</script>
</body></html>
